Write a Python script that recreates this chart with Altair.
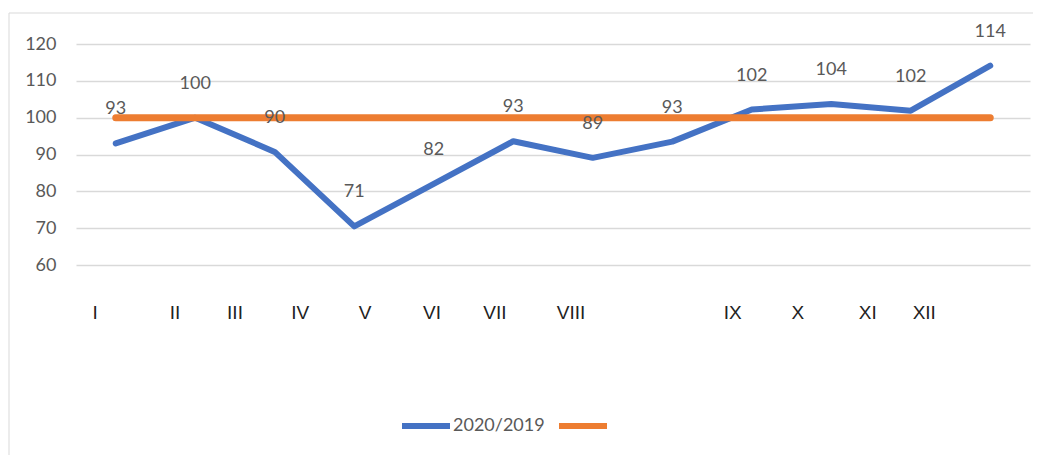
import altair as alt
import pandas as pd

# ---- data ----
month_idx = list(range(12))
values = [93.0, 100.0, 90.7, 70.5, 82.0, 93.6, 89.1, 93.5, 102.2, 103.7, 101.9, 114.1]
value_labels = ["93", "100", "90", "71", "82", "93", "89", "93", "102", "104", "102", "114"]
reference = [100] * 12
roman = ["I", "II", "III", "IV", "V", "VI", "VII", "VIII", "IX", "X", "XI", "XII"]
roman_pos = [-0.26, 0.745, 1.5, 2.32, 3.135, 3.978, 4.77, 5.726, 7.76, 8.58, 9.46, 10.17]
y_ticks = [60, 70, 80, 90, 100, 110, 120]
series_names = ["2020/2019", "ref"]
series_colors = ["#4472C4", "#ED7D31"]

FONT = "Lato"
GRAY = "#595959"

main = pd.DataFrame({"idx": month_idx, "value": values, "label": value_labels, "series": series_names[0]})
ref = pd.DataFrame({"idx": month_idx, "value": reference, "series": series_names[1]})
xl = pd.DataFrame({"pos": roman_pos, "txt": roman})

xscale = alt.Scale(domain=[-0.5, 11.5], nice=False, zero=False)
yscale = alt.Scale(domain=[60, 120], nice=False, zero=False)
yaxis = alt.Axis(values=y_ticks, title=None, ticks=False, domain=False, grid=True,
                 gridColor="#d9d9d9", gridWidth=1.5, labelFont=FONT, labelFontSize=18,
                 labelColor=GRAY, labelPadding=20, labelOverlap=False, tickCount=7)
X = alt.X("idx:Q", scale=xscale, axis=None)
Y = alt.Y("value:Q", scale=yscale, axis=yaxis)

color = alt.Color(
    "series:N",
    scale=alt.Scale(domain=series_names, range=series_colors),
    legend=alt.Legend(
        title=None,
        orient="none",
        legendX=323,
        legendY=355,
        direction="horizontal",
        symbolType="stroke",
        symbolSize=2304,
        symbolStrokeWidth=6,
        labelFont=FONT,
        labelFontSize=18,
        labelColor=GRAY,
        labelOffset=0,
        columnPadding=2,
        labelExpr="datum.label == 'ref' ? '' : datum.label",
    ),
)

frame = alt.Chart(pd.DataFrame({"a": [0]})).mark_rect(filled=False, stroke="#d9d9d9", strokeWidth=1).encode(
    x=alt.value(-67), x2=alt.value(1200), y=alt.value(-31), y2=alt.value(600)
)

blue = alt.Chart(main).mark_line(strokeWidth=6, strokeCap="round", strokeJoin="round").encode(
    x=X, y=Y, color=color,
)

orange = alt.Chart(ref).mark_line(strokeWidth=7, strokeCap="round").encode(
    x=X, y=Y, color=color,
)

labels = alt.Chart(main).mark_text(dy=-34, font=FONT, fontSize=18, color=GRAY).encode(
    x=X, y=Y, text="label:N",
)

xlabels = alt.Chart(xl).mark_text(font="Liberation Sans", fontSize=19, color="#222222", baseline="middle").encode(
    x=alt.X("pos:Q", scale=xscale, axis=None),
    y=alt.value(269),
    text="txt:N",
)

chart = alt.layer(frame, blue, orange, labels, xlabels).properties(
    width=954,
    height=221,
    autosize=alt.AutoSizeParams(type="none"),
    padding={"left": 68, "top": 36, "right": 3, "bottom": 190},
).configure_view(stroke=None)

chart.save("out.html", embed_options={"renderer": "svg", "actions": False})
